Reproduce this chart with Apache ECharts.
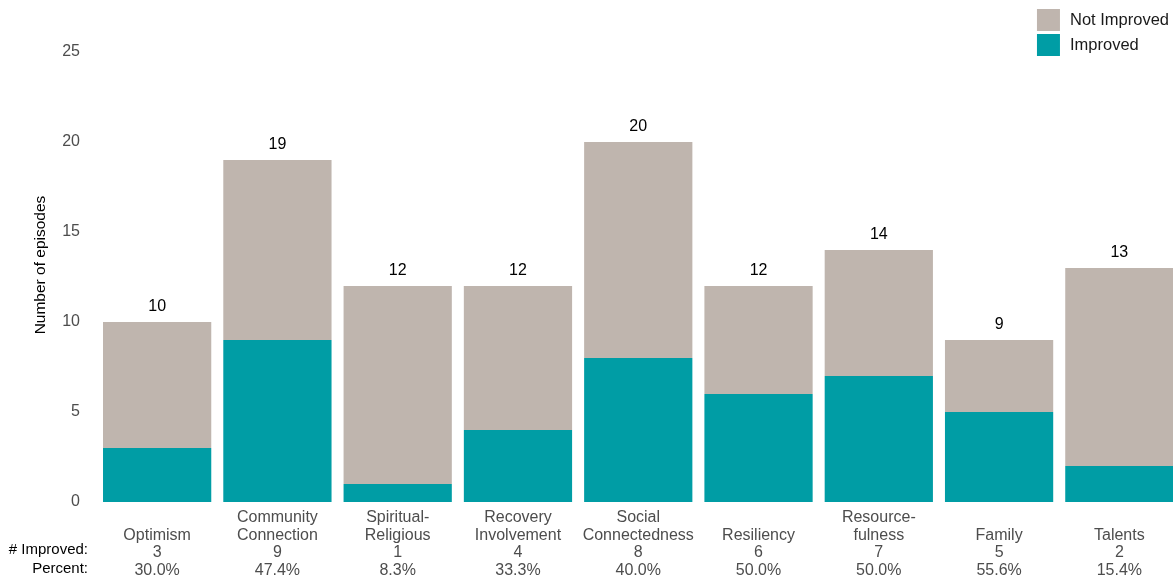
<!DOCTYPE html>
<html>
<head>
<meta charset="utf-8">
<script src="https://cdn.jsdelivr.net/npm/echarts@6/dist/echarts.min.js"></script>
<style>
html,body{margin:0;padding:0;background:#fff;overflow:hidden;width:1173px;height:581px;}
#chart{width:1180px;height:581px;}
</style>
</head>
<body>
<div id="chart"></div>
<script>
var categories = ["Optimism", "Community\nConnection", "Spiritual-\nReligious", "Recovery\nInvolvement", "Social\nConnectedness", "Resiliency", "Resource-\nfulness", "Family", "Talents"];
var improved = [3, 9, 1, 4, 8, 6, 7, 5, 2];
var notImproved = [7, 10, 11, 8, 12, 6, 7, 4, 11];
var percentLabels = ["30.0%", "47.4%", "8.3%", "33.3%", "40.0%", "50.0%", "50.0%", "55.6%", "15.4%"];
var yTicks = [0, 5, 10, 15, 20, 25];

var chart = echarts.init(document.getElementById('chart'));
var font = 'Liberation Sans, Arial, sans-serif';

chart.setOption({
  animation: false,
  textStyle: { fontFamily: font },
  grid: { left: 97, right: 0.5, top: 52, bottom: 79, containLabel: false },
  legend: {
    orient: 'vertical',
    right: 11,
    top: 9,
    padding: 0,
    itemWidth: 23,
    itemHeight: 22,
    itemGap: 3,
    icon: 'rect',
    textStyle: { fontFamily: font, fontSize: 16.5, color: '#1a1a1a', padding: [0, 0, 0, 5] },
    data: ['Not Improved', 'Improved']
  },
  xAxis: {
    type: 'category',
    data: categories,
    axisLine: { show: false },
    axisTick: { show: false },
    axisLabel: {
      interval: 0,
      margin: 7,
      fontFamily: font,
      fontSize: 16,
      lineHeight: 17.5,
      color: '#4d4d4d',
      formatter: function (v, i) {
        var name = v.indexOf('\n') >= 0 ? v : ' \n' + v;
        return name + '\n' + improved[i] + '\n' + percentLabels[i];
      }
    }
  },
  yAxis: {
    type: 'value',
    min: yTicks[0],
    max: yTicks[yTicks.length - 1],
    interval: 5,
    name: 'Number of episodes',
    nameLocation: 'middle',
    nameGap: 48,
    nameTextStyle: { fontFamily: font, fontSize: 15.5, color: '#000', padding: [0, 0, 0, 24] },
    axisLine: { show: false },
    axisTick: { show: false },
    splitLine: { show: false },
    axisLabel: { margin: 17, fontFamily: font, fontSize: 16, color: '#4d4d4d', padding: [4, 0, 0, 0] }
  },
  series: [
    {
      name: 'Improved',
      type: 'bar',
      stack: 'total',
      barCategoryGap: '10%',
      itemStyle: { color: '#009DA5' },
      data: improved
    },
    {
      name: 'Not Improved',
      type: 'bar',
      stack: 'total',
      barCategoryGap: '10%',
      itemStyle: { color: '#BFB5AE' },
      label: {
        show: true,
        position: 'top',
        distance: 7,
        fontFamily: font,
        fontSize: 16,
        color: '#000',
        formatter: function (p) { return improved[p.dataIndex] + notImproved[p.dataIndex]; }
      },
      data: notImproved
    }
  ],
  graphic: [
    { type: 'text', x: 88, y: 550, style: { text: '# Improved:', fontFamily: font, fontSize: 15, fill: '#000', align: 'right', verticalAlign: 'middle' } },
    { type: 'text', x: 88, y: 569, style: { text: 'Percent:', fontFamily: font, fontSize: 15, fill: '#000', align: 'right', verticalAlign: 'middle' } }
  ]
});
</script>
</body>
</html>
